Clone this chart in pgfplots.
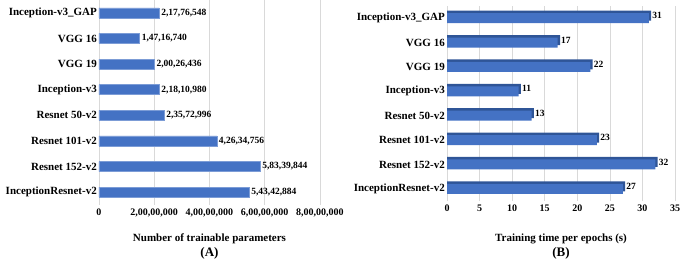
\documentclass[border=0pt]{standalone}
\usepackage{pgfplots}
\pgfplotsset{compat=1.18}
\usepackage{fontspec}
\setmainfont{Liberation Serif}
\definecolor{barblue}{HTML}{4472C4}
\definecolor{darkblue}{HTML}{2F5597}
\definecolor{gridgray}{HTML}{D9D9D9}
\begin{document}
\begin{tikzpicture}
\useasboundingbox (0,0) rectangle (685pt,260pt);
\pgfplotsset{
 common/.style={
  scale only axis, xbar, y dir=reverse, ymin=-0.5, ymax=7.5,
  ytick={0,...,7},
  yticklabels={Inception-v3\_GAP, VGG 16, VGG 19, Inception-v3, Resnet 50-v2, Resnet 101-v2, Resnet 152-v2, InceptionResnet-v2},
  axis line style={draw=none}, major tick length=0pt,
  xmajorgrids, ymajorgrids=false, grid style={gridgray, line width=0.6pt},
  y tick label style={font=\fontsize{11}{13}\selectfont\bfseries, inner sep=2pt},
  x tick label style={font=\fontsize{10}{12}\selectfont\bfseries},
  /pgf/number format/assume math mode=true,
  xlabel style={font=\fontsize{11}{13}\selectfont\bfseries, align=center, yshift=-10pt},
  bar width=10pt,
  clip=false,
 }
}
\begin{axis}[common, anchor=south west, at={(99pt,55pt)}, width=221pt, height=205pt,
 xmin=0, xmax=8e8, xtick={0,2e8,4e8,6e8,8e8},
 xticklabels={{0},{2,00,00,000},{4,00,00,000},{6,00,00,000},{8,00,00,000}},
 scaled x ticks=false,
 xlabel={Number of trainable parameters\\[2pt]{\fontsize{13}{15}\selectfont (A)}},
 nodes near coords, point meta=explicit symbolic,
 nodes near coords style={font=\fontsize{9.5}{11}\selectfont\bfseries, anchor=west, inner sep=2pt},
]
\addplot[fill=barblue, draw=barblue!70!white, line width=0.4pt] table[x=x, y=y, meta=lab] {
y x lab
0 217767548 2,17,76,548
1 147167400 1,47,16,740
2 200264360 2,00,26,436
3 218109800 2,18,10,980
4 235729960 2,35,72,996
5 426347560 4,26,34,756
6 583398440 5,83,39,844
7 543428840 5,43,42,884
};
\end{axis}
\begin{axis}[common, anchor=south west, at={(447pt,59pt)}, width=228pt, height=195pt,
 xmin=0, xmax=35, xtick={0,5,...,35},
 xlabel={Training time per epochs (s)\\[2pt]{\fontsize{13}{15}\selectfont (B)}},
 xlabel style={yshift=-6pt},
]
\addplot[fill=darkblue, draw=none, bar shift=2.5pt,
 nodes near coords, point meta=explicit symbolic,
 nodes near coords style={font=\fontsize{9.5}{11}\selectfont\bfseries, anchor=west, inner sep=1pt}] table[x=x, y=y, meta=lab] {
y x lab
0 31.35 31
1 17.35 17
2 22.35 22
3 11.35 11
4 13.35 13
5 23.35 23
6 32.35 32
7 27.35 27
};
\addplot[fill=barblue, draw=none, bar shift=0pt] table[x=x, y=y] {
y x
0 31
1 17
2 22
3 11
4 13
5 23
6 32
7 27
};
\end{axis}
\end{tikzpicture}
\end{document}
